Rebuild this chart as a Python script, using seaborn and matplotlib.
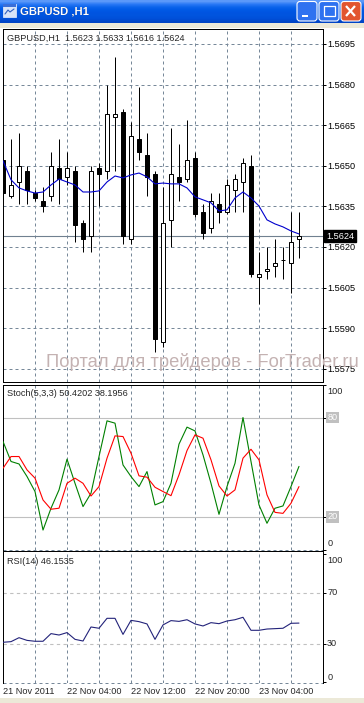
import numpy as np
import pandas as pd
import seaborn as sns
import matplotlib.pyplot as plt
from matplotlib.patches import Rectangle, FancyBboxPatch

sns.set_style("white")
plt.rcParams['font.family'] = ['Liberation Sans', 'DejaVu Sans']

# ---- data (GBPUSD H1) ----
times = pd.date_range('2011-11-21 20:00', periods=38, freq='h')

opens = [1.5652, 1.5639, 1.5644, 1.5648, 1.5640, 1.5637, 1.5639, 1.5649, 1.5646, 1.5648,
         1.5629, 1.5624, 1.5649, 1.5648, 1.5668, 1.5670, 1.5623, 1.5660, 1.5654, 1.5647,
         1.5585, 1.5630, 1.5646, 1.5645, 1.5653, 1.5633, 1.5627, 1.5636, 1.5633, 1.5641,
         1.5644, 1.5650, 1.5609, 1.5611, 1.5613, 1.5615, 1.5614, 1.5623]
highs = [1.5662, 1.5660, 1.5662, 1.5650, 1.5641, 1.5642, 1.5655, 1.5660, 1.5655, 1.5650,
         1.5630, 1.5650, 1.5651, 1.5680, 1.5690, 1.5671, 1.5666, 1.5679, 1.5662, 1.5648,
         1.5642, 1.5664, 1.5658, 1.5667, 1.5655, 1.5636, 1.5640, 1.5640, 1.5645, 1.5647,
         1.5653, 1.5654, 1.5618, 1.5620, 1.5623, 1.5620, 1.5633, 1.5633]
lows = [1.5639, 1.5638, 1.5636, 1.5636, 1.5637, 1.5633, 1.5637, 1.5636, 1.5643, 1.5622,
        1.5618, 1.5618, 1.5635, 1.5645, 1.5648, 1.5621, 1.5621, 1.5652, 1.5639, 1.5581,
        1.5583, 1.5620, 1.5637, 1.5644, 1.5631, 1.5623, 1.5625, 1.5629, 1.5632, 1.5633,
        1.5633, 1.5609, 1.5599, 1.5608, 1.5609, 1.5608, 1.5603, 1.5616]
closes = [1.5640, 1.5643, 1.5650, 1.5641, 1.5638, 1.5635, 1.5650, 1.5645, 1.5649, 1.5628,
          1.5623, 1.5648, 1.5647, 1.5669, 1.5669, 1.5624, 1.5661, 1.5655, 1.5646, 1.5586,
          1.5629, 1.5647, 1.5644, 1.5652, 1.5632, 1.5625, 1.5637, 1.5633, 1.5643, 1.5645,
          1.5651, 1.5610, 1.5610, 1.5612, 1.5614, 1.5615, 1.5622, 1.5624]
ma = [1.56518, 1.56448, 1.56418, 1.56407, 1.56399, 1.56403, 1.56429, 1.56451, 1.56440, 1.56429,
      1.56403, 1.56403, 1.56407, 1.56440, 1.56462, 1.56455, 1.56466, 1.56473, 1.56459, 1.56433,
      1.56436, 1.56433, 1.56433, 1.56418, 1.56385, 1.56374, 1.56363, 1.56333, 1.56337, 1.56381,
      1.56403, 1.56381, 1.56351, 1.56300, 1.56285, 1.56274, 1.56259, 1.56248]

stoch_main = [65.5, 53.4, 51.9, 44.3, 35.2, 11.9, 25.1, 36.2, 54.8, 40.2,
              26.1, 34.2, 56.4, 78.0, 76.6, 51.3, 44.3, 38.2, 47.3, 27.1,
              29.1, 40.2, 63.9, 74.2, 71.9, 57.4, 40.2, 21.4, 38.2, 52.3,
              80.0, 53.4, 27.1, 16.0, 25.1, 26.5, 38.2, 50.42]
stoch_signal = [49.3, 56.4, 56.4, 48.3, 43.3, 30.1, 24.5, 25.1, 40.2, 43.3,
                40.2, 32.5, 38.2, 55.4, 68.9, 68.5, 58.4, 44.7, 43.9, 37.8,
                35.2, 32.7, 45.3, 60.0, 69.5, 67.5, 54.4, 38.6, 32.5, 36.2,
                55.4, 60.8, 54.4, 33.2, 22.6, 22.0, 28.1, 38.20]
rsi = [31.1, 31.6, 34.7, 32.6, 31.9, 31.9, 37.9, 36.8, 38.7, 33.4,
       32.1, 43.1, 42.1, 49.9, 49.9, 37.3, 48.3, 47.3, 45.5, 33.4,
       44.7, 48.1, 47.5, 48.8, 45.5, 43.9, 46.5, 45.7, 47.8, 48.8,
       50.7, 40.5, 40.5, 41.5, 41.8, 42.1, 46.0, 46.15]

price_ticks = [1.5575, 1.5590, 1.5605, 1.5620, 1.5635, 1.5650, 1.5665, 1.5680, 1.5695]
header_main = "GBPUSD,H1  1.5623 1.5633 1.5616 1.5624"
header_stoch = "Stoch(5,3,3) 50.4202 38.1956"
header_rsi = "RSI(14) 46.1535"
watermark = "Портал для трейдеров - ForTrader.ru"

# ---- layout helpers (pixel coords of the 364x703 screenshot) ----
W, H = 364, 703
fig = plt.figure(figsize=(W / 100, H / 100), dpi=100, facecolor='white')


def px_axes(x0, y0, x1, y1):
    return fig.add_axes([x0 / W, 1 - y1 / H, (x1 - x0) / W, (y1 - y0) / H])


bars = np.arange(len(times))
grid_bars = bars[times.hour % 4 == 0]
label_bars = [0] + [b for b in bars[times.hour % 8 == 4] if b > 0]
GRID = '#778899'
DASH = (0, (3, 3))
LW = 0.72

ax = px_axes(2.7, 28.5, 323.3, 382)
ax_st = px_axes(2.7, 384.5, 323.3, 549.7)
ax_rsi = px_axes(2.7, 551, 323.3, 682.7)

for a in (ax, ax_st, ax_rsi):
    a.set_xlim(-0.04, 40.04)
    a.set_facecolor('white')
    a.set_xticks([])
    for s in a.spines.values():
        s.set_color('black')
        s.set_linewidth(LW)
    for g in grid_bars:
        a.axvline(g, color=GRID, lw=LW, ls=DASH, zorder=0.5)
    a.yaxis.tick_right()
    a.tick_params(axis='y', direction='out', length=2, width=LW, pad=1,
                  labelsize=6.6, colors='black')

# ---- main price panel ----
ax.set_ylim(1.55701, 1.57007)
for p in price_ticks:
    ax.axhline(p, color=GRID, lw=LW, ls=DASH, zorder=0.5)
ax.set_yticks(price_ticks)
ax.set_yticklabels([f"{p:.4f}" for p in price_ticks])

o = np.array(opens)
c = np.array(closes)
up = c >= o
body_lo = np.minimum(o, c)
body_h = np.maximum(np.abs(c - o), 0.00003)
ax.vlines(bars, lows, highs, color='black', lw=LW, zorder=3)
ax.bar(bars[up], body_h[up], bottom=body_lo[up], width=0.6, color='white',
       edgecolor='black', lw=LW, zorder=4)
ax.bar(bars[~up], body_h[~up], bottom=body_lo[~up], width=0.6, color='black',
       edgecolor='black', lw=LW, zorder=4)
sns.lineplot(x=bars, y=ma, ax=ax, color='#0000CD', lw=0.8, zorder=5)

bid = closes[-1]
ax.axhline(bid, color='#708090', lw=0.8, zorder=2)
ax.text(1.008, bid, f"{bid:.4f}", transform=ax.get_yaxis_transform(), ha='left',
        va='center', fontsize=6.6, color='white', zorder=10, clip_on=False,
        bbox=dict(boxstyle='square,pad=0.2', fc='black', ec='black'))
ax.set_ylabel('')

# ---- stochastic panel ----
ax_st.set_ylim(0, 100)
ax_st.spines['bottom'].set_visible(False)
ax_st.axhline(0, color=GRID, lw=LW, ls=DASH, clip_on=False)
for lvl in (80, 20):
    ax_st.axhline(lvl, color='#C0C0C0', lw=0.8, zorder=0.6)
ax_st.set_yticks([0, 20, 80, 100])
ax_st.set_yticklabels([])
sns.lineplot(x=bars, y=stoch_main, ax=ax_st, color='#008000', lw=0.8, zorder=5)
sns.lineplot(x=bars, y=stoch_signal, ax=ax_st, color='#FF0000', lw=0.8, zorder=5)
tr = ax_st.get_yaxis_transform()
ax_st.text(1.012, 95.8, "100", transform=tr, ha='left', va='center', fontsize=6.6)
ax_st.text(1.012, 3.9, "0", transform=tr, ha='left', va='center', fontsize=6.6)
for lvl in (80, 20):
    ax_st.text(1.012, lvl, str(lvl), transform=tr, ha='left', va='center',
               fontsize=6.6, color='white',
               bbox=dict(boxstyle='square,pad=0.15', fc='#C0C0C0', ec='none'))
ax_st.set_ylabel('')

# ---- RSI panel ----
ax_rsi.set_ylim(-0.6, 102.7)
ax_rsi.spines['bottom'].set_visible(False)
ax_rsi.axhline(-0.6, color=GRID, lw=LW, ls=DASH, clip_on=False)
for lvl in (70, 30):
    ax_rsi.axhline(lvl, color='#C0C0C0', lw=0.8, ls=DASH, zorder=0.6)
ax_rsi.set_yticks([0, 30, 70, 100])
ax_rsi.set_yticklabels([])
sns.lineplot(x=bars, y=rsi, ax=ax_rsi, color='#23237A', lw=0.8, zorder=5)
tr = ax_rsi.get_yaxis_transform()
for val, txt in ((95.6, "100"), (70, "70"), (30, "30"), (3.3, "0")):
    ax_rsi.text(1.012, val, txt, transform=tr, ha='left', va='center', fontsize=6.6)
ax_rsi.set_ylabel('')

# time axis labels
xt = ax_rsi.get_xaxis_transform()
for b in label_bars:
    fmt = '%d %b %Y' if b == 0 else '%d %b %H:%M'
    ax_rsi.text(b - 0.03, -0.068, times[b].strftime(fmt), transform=xt,
                ha='left', va='center', fontsize=6.6, clip_on=False)

# indicator headers and watermark
fig.text(7.3 / W, 1 - 38.3 / H, header_main, fontsize=6.6, va='center')
fig.text(6.7 / W, 1 - 394 / H, header_stoch, fontsize=6.6, va='center')
fig.text(6.7 / W, 1 - 561.7 / H, header_rsi, fontsize=6.6, va='center')
fig.text(46 / W, 1 - 362 / H, watermark, fontsize=13.2, color='#C4B2B2',
         va='center', zorder=1)

# ---- window chrome: title bar, strips ----
tb = fig.add_axes([0, 1 - 22.7 / H, 1, 22.7 / H])
grad = np.array([[0.36, 0.60, 0.98], [0.16, 0.47, 0.96], [0.04, 0.39, 0.92],
                 [0.00, 0.35, 0.90], [0.00, 0.33, 0.88], [0.00, 0.33, 0.87],
                 [0.00, 0.31, 0.85], [0.00, 0.27, 0.78]])
tb.imshow(grad[:, None, :], aspect='auto', extent=(0, W, 22.7, 0), interpolation='bilinear')
tb.set_xlim(0, W)
tb.set_ylim(22.7, 0)
tb.axis('off')
tb.text(20.3, 11.8, "GBPUSD ,H1", color='#0A246A', fontsize=8.1, fontweight='bold', va='center')
tb.text(19.6, 11.2, "GBPUSD ,H1", color='white', fontsize=8.1, fontweight='bold', va='center')
tb.add_patch(Rectangle((3, 4), 13, 13, fc='#D8E4F8', ec='#E8F0FF', lw=0.5))
tb.add_patch(Rectangle((3, 4), 13, 3, fc='#3A6FD8', ec='none'))
tb.plot([5, 8, 10, 14], [14, 10, 12, 9], color='#3060C0', lw=0.8)
for bx, fc in ((297, '#2F72F0'), (319, '#2F72F0'), (341, '#E2552F')):
    tb.add_patch(FancyBboxPatch((bx, 1.5), 20, 19.5, boxstyle='round,pad=0,rounding_size=3',
                                fc=fc, ec='white', lw=0.8))
tb.add_patch(Rectangle((302, 14.5), 6, 2.5, fc='white', ec='none'))
tb.add_patch(Rectangle((323.5, 5.5), 11, 10.5, fc='none', ec='white', lw=0.9))
tb.add_patch(Rectangle((323.5, 5.5), 11, 2, fc='white', ec='none'))
tb.plot([346, 355], [6, 16], color='white', lw=1.6, solid_capstyle='butt')
tb.plot([346, 355], [16, 6], color='white', lw=1.6, solid_capstyle='butt')

fig.patches.append(Rectangle((0, 1 - 27.5 / H), 1, 4.8 / H, transform=fig.transFigure,
                             fc='#ECE9D8', ec='none'))
fig.patches.append(Rectangle((0, 0), 1, 5 / H, transform=fig.transFigure,
                             fc='#ECE9D8', ec='none'))

fig.savefig('out.png', dpi=100, facecolor='white')
